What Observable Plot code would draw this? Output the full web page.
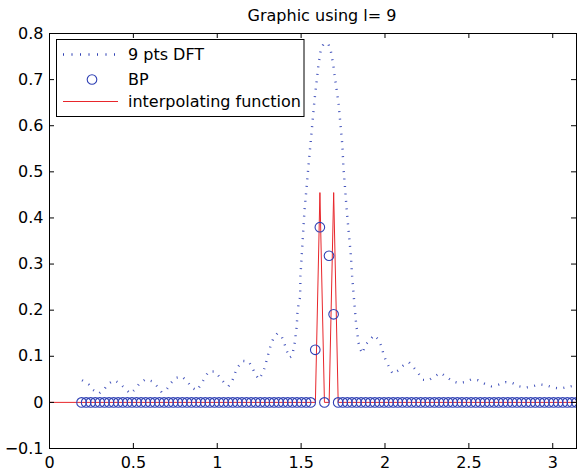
<!DOCTYPE html>
<html><head><meta charset="utf-8">
<script src="https://cdn.jsdelivr.net/npm/d3@7"></script>
<script src="https://cdn.jsdelivr.net/npm/@observablehq/plot@0.6"></script>
<style>
html,body{margin:0;padding:0;background:#fff;}
#chart svg{display:block;}
</style></head><body><div id="chart"></div>
<script>
const titleText = "Graphic using l= 9";
const legendLabels = ["9 pts DFT", "BP", "interpolating function"];
const xTicks = [0, 0.5, 1, 1.5, 2, 2.5, 3];
const yTicks = [-0.1, 0, 0.1, 0.2, 0.3, 0.4, 0.5, 0.6, 0.7, 0.8];

const dftX = [0.194,0.234,0.260,0.294,0.323,0.349,0.387,0.423,0.452,0.482,
  0.512,0.538,0.573,0.611,0.641,0.669,0.700,0.724,0.750,0.790,
  0.823,0.847,0.879,0.903,0.925,0.948,0.986,1.014,1.042,1.067,
  1.091,1.107,1.123,1.151,1.187,1.208,1.226,1.248,1.272,1.286,
  1.296,1.319,1.335,1.359,1.385,1.401,1.415,1.430,1.448,1.454,
  1.464,1.468,1.474,1.476,1.478,1.484,1.494,1.496,1.504,1.512,
  1.520,1.532,1.543,1.555,1.567,1.579,1.593,1.603,1.617,1.633,
  1.648,1.663,1.677,1.692,1.704,1.722,1.734,1.746,1.752,1.762,
  1.772,1.784,1.796,1.804,1.815,1.826,1.841,1.851,1.866,1.881,
  1.907,1.935,1.966,1.980,1.990,2.006,2.024,2.046,2.079,2.109,
  2.143,2.168,2.198,2.224,2.260,2.293,2.332,2.367,2.401,2.436,
  2.476,2.516,2.555,2.591,2.635,2.674,2.718,2.760,2.798,2.838,
  2.883,2.923,2.963,3.002,3.046,3.085,3.131,3.142];
const dftY = [0.048,0.039,0.027,0.019,0.027,0.040,0.048,0.040,0.029,0.019,
  0.029,0.042,0.050,0.046,0.035,0.022,0.029,0.042,0.053,0.056,
  0.045,0.032,0.026,0.039,0.053,0.067,0.067,0.055,0.042,0.035,
  0.048,0.064,0.077,0.090,0.089,0.076,0.062,0.050,0.064,0.079,
  0.094,0.124,0.139,0.150,0.142,0.127,0.111,0.097,0.101,0.116,
  0.133,0.149,0.165,0.179,0.196,0.211,0.228,0.274,0.321,0.368,
  0.416,0.464,0.510,0.557,0.605,0.653,0.698,0.731,0.764,0.777,
  0.779,0.777,0.762,0.731,0.698,0.651,0.605,0.557,0.510,0.464,
  0.416,0.368,0.321,0.274,0.225,0.178,0.131,0.116,0.106,0.124,
  0.134,0.146,0.134,0.120,0.106,0.090,0.077,0.062,0.069,0.080,
  0.087,0.077,0.064,0.049,0.048,0.056,0.064,0.055,0.046,0.042,
  0.044,0.050,0.048,0.041,0.035,0.038,0.044,0.042,0.035,0.032,
  0.035,0.039,0.037,0.032,0.030,0.033,0.037,0.038];

// BP samples: evenly spaced positions
const bpStart = 0.191, bpStep = 0.02732;
const bpY = [0,0,0,0,0,0,0,0,0,0,
  0,0,0,0,0,0,0,0,0,0,
  0,0,0,0,0,0,0,0,0,0,
  0,0,0,0,0,0,0,0,0,0,
  0,0,0,0,0,0,0,0,0,0,
  0,
  0.114,0.380,0,0.318,0.191,
  0,0,0,0,0,0,0,0,0,0,
  0,0,0,0,0,0,0,0,0,0,
  0,0,0,0,0,0,0,0,0,0,
  0,0,0,0,0,0,0,0,0,0,
  0,0,0,0,0,0,0,0,0,0,
  0,0,0];

const interpX = [0, 1.585, 1.612, 1.639, 1.667, 1.694, 1.721, 3.1416];
const interpY = [0, 0, 0.455, 0, 0, 0.455, 0, 0];

const W = 577, H = 475, mL = 49, mR = 1, mT = 33, mB = 27;
const fw = W - mL - mR, fh = H - mT - mB, tick = 5;
const blue = "#2f40b4", red = "#e8262b";
const font = "DejaVu Sans";

const dft = dftX.map((x, i) => ({x, y: dftY[i]}));
const bp = bpY.map((y, i) => ({x: bpStart + i * bpStep, y}));
const interp = interpX.map((x, i) => ({x, y: interpY[i]}));
const fmt = d => (d < 0 ? "\u2212" : "") + String(Math.abs(d));

const plot = Plot.plot({
  width: W, height: H,
  marginLeft: mL, marginRight: mR, marginTop: mT, marginBottom: mB,
  style: {fontFamily: font, fontSize: "16px", color: "black", background: "white", overflow: "visible"},
  x: {domain: [0, Math.PI], label: null},
  y: {domain: [-0.1, 0.8], label: null},
  marks: [
    Plot.line(dft, {x: "x", y: "y", stroke: blue, strokeWidth: 2.4, strokeDasharray: "1,6.5", strokeLinecap: "butt", strokeOpacity: 0.9}),
    Plot.line(interp, {x: "x", y: "y", stroke: red, strokeWidth: 1}),
    Plot.dot(bp, {x: "x", y: "y", r: 4.8, stroke: blue, strokeWidth: 1.1, fill: "none"}),
    Plot.ruleX(xTicks, {insetTop: fh - tick, stroke: "black"}),
    Plot.ruleX(xTicks, {insetBottom: fh - tick, stroke: "black"}),
    Plot.ruleY(yTicks, {insetRight: fw - tick, stroke: "black"}),
    Plot.ruleY(yTicks, {insetLeft: fw - tick, stroke: "black"}),
    Plot.frame({stroke: "black", strokeWidth: 1}),
    Plot.axisX({ticks: xTicks, tickSize: 0, tickPadding: 8, tickFormat: fmt, fontSize: 16}),
    Plot.axisY({ticks: yTicks, tickSize: 0, tickPadding: 6, tickFormat: fmt, fontSize: 16})
  ]
});

const svg = d3.select(plot);
svg.append("text").attr("x", 322).attr("y", 21).attr("text-anchor", "middle")
  .attr("font-family", font).attr("font-size", 16).attr("fill", "black").text(titleText);

const lg = svg.append("g").attr("font-family", font).attr("font-size", 16).attr("text-anchor", "start");
lg.append("rect").attr("x", 56.5).attr("y", 39.5).attr("width", 247.5).attr("height", 77)
  .attr("fill", "white").attr("stroke", "black").attr("stroke-width", 1);
const rows = [54.5, 79.5, 101.5];
lg.append("line").attr("x1", 63).attr("x2", 118).attr("y1", rows[0]).attr("y2", rows[0])
  .attr("stroke", blue).attr("stroke-width", 2.4).attr("stroke-dasharray", "1,7.5");
lg.append("circle").attr("cx", 92).attr("cy", rows[1]).attr("r", 4.8)
  .attr("fill", "none").attr("stroke", blue).attr("stroke-width", 1.1);
lg.append("line").attr("x1", 63).attr("x2", 118).attr("y1", rows[2]).attr("y2", rows[2])
  .attr("stroke", red).attr("stroke-width", 1);
legendLabels.forEach((t, i) => {
  lg.append("text").attr("x", 128).attr("y", rows[i]).attr("dy", "0.36em")
    .attr("text-anchor", "start").attr("fill", "black").text(t);
});

document.getElementById("chart").appendChild(plot);
</script>
</body></html>
